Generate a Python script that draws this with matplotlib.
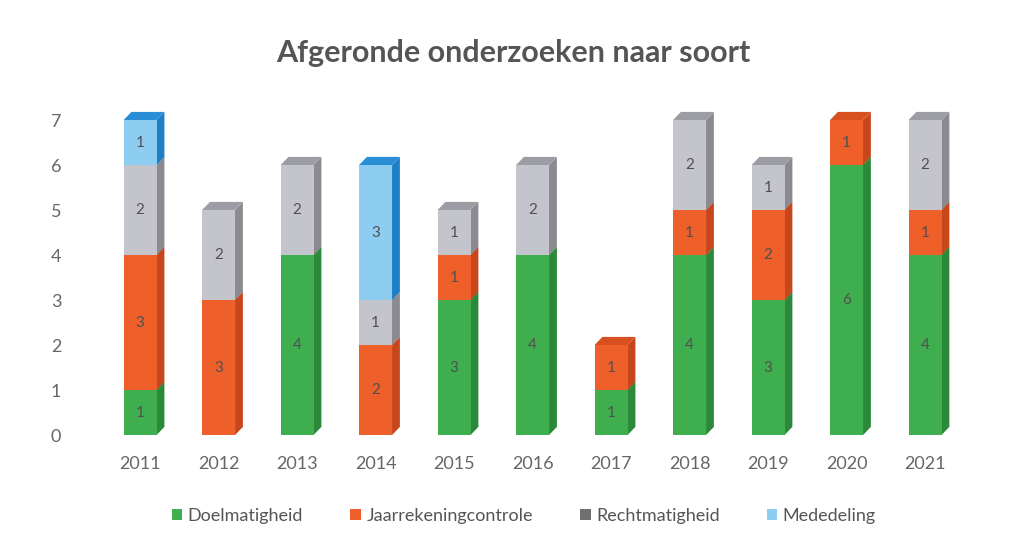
import matplotlib
matplotlib.use("Agg")
import matplotlib.pyplot as plt
from matplotlib.patches import Polygon, Patch
import numpy as np

plt.rcParams['font.family'] = ['Lato', 'DejaVu Sans']

years = ['2011', '2012', '2013', '2014', '2015', '2016', '2017', '2018', '2019', '2020', '2021']
doelmatigheid = [1, 0, 4, 0, 3, 4, 1, 4, 3, 6, 4]
jaarrekening = [3, 3, 0, 2, 1, 0, 1, 1, 2, 1, 1]
rechtmatigheid = [2, 2, 2, 1, 1, 2, 0, 2, 1, 0, 2]
mededeling = [1, 0, 0, 3, 0, 0, 0, 0, 0, 0, 0]

series_names = ['Doelmatigheid', 'Jaarrekeningcontrole', 'Rechtmatigheid', 'Mededeling']
front_cols = ['#3fae4f', '#ef5f2a', '#c4c4cc', '#8ecdf2']
side_cols = ['#2b8a3a', '#c8461c', '#8a8a90', '#1f7fc6']
top_cols = ['#2f9a40', '#d8501f', '#9c9ca4', '#2a8ed6']
legend_cols = ['#3fae4f', '#ef5f2a', '#707070', '#8ecdf2']

series = [doelmatigheid, jaarrekening, rechtmatigheid, mededeling]

fig = plt.figure(figsize=(10.27, 5.42), dpi=100, facecolor='white')
ax = fig.add_axes([0.0867, 0.1974, 0.8637, 0.6227])

bw = 0.42      # front width
dx = 0.10      # depth in x
dy = 0.18      # depth in y

x = np.arange(len(years))
bottoms = np.zeros(len(years))
for vals, fc, sc, tc in zip(series, front_cols, side_cols, top_cols):
    vals = np.array(vals, dtype=float)
    ax.bar(x, vals, bottom=bottoms, width=bw, color=fc, edgecolor='none', zorder=3)
    for i in range(len(years)):
        if vals[i] == 0:
            continue
        b = bottoms[i]
        t = b + vals[i]
        r = x[i] + bw / 2
        l = x[i] - bw / 2
        # side face
        ax.add_patch(Polygon([(r, b), (r + dx, b + dy), (r + dx, t + dy), (r, t)],
                             closed=True, facecolor=sc, edgecolor='none', zorder=2))
        # top face
        ax.add_patch(Polygon([(l, t), (r, t), (r + dx, t + dy), (l + dx, t + dy)],
                             closed=True, facecolor=tc, edgecolor='none', zorder=2))
        ax.text(x[i], b + vals[i] / 2, str(int(vals[i])), ha='center', va='center',
                fontsize=11, color='#505050', zorder=4)
    bottoms = bottoms + vals

ax.set_xlim(-0.65, len(years) - 0.35)
ax.set_ylim(0, 7.5)
ax.set_xticks(x)
ax.set_xticklabels(years)
ax.set_yticks(range(0, 8))
for s in ['top', 'bottom', 'left', 'right']:
    ax.spines[s].set_visible(False)
ax.tick_params(axis='both', length=0, colors='#666666', labelsize=13)
ax.tick_params(axis='x', pad=15)
ax.tick_params(axis='y', pad=20)

fig.text(0.5, 0.903, 'Afgeronde onderzoeken naar soort', ha='center', va='center',
         fontsize=22, fontweight='bold', color='#555555')

handles = [Patch(facecolor=c, edgecolor='none') for c in legend_cols]
fig.legend(handles, series_names, loc='center', bbox_to_anchor=(0.51, 0.048), ncol=4,
           frameon=False, fontsize=13, handlelength=0.6, handleheight=0.6,
           handletextpad=0.3, columnspacing=2.6, labelcolor='#555555')

fig.savefig('out.png', dpi=100, facecolor='white')
